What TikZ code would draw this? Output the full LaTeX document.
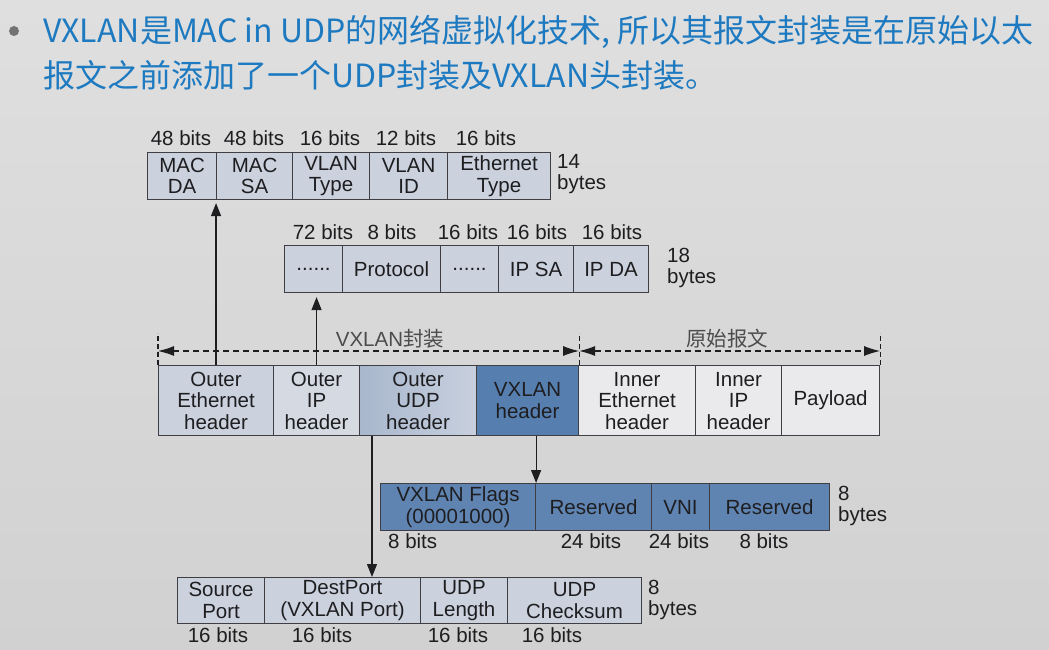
\documentclass[tikz,border=0pt]{standalone}
\usepackage{fontspec}
\setmainfont{Liberation Sans}
\newfontfamily\cjkfont{Noto Sans CJK SC}
\usetikzlibrary{arrows.meta,calc}

\definecolor{bgtop}{RGB}{223,223,223}
\definecolor{bgbot}{RGB}{209,209,209}
\definecolor{titleblue}{RGB}{30,122,192}
\definecolor{edge}{RGB}{62,62,68}
\definecolor{txt}{RGB}{30,30,33}
\definecolor{paleblue}{RGB}{203,209,221}
\definecolor{lightblue}{RGB}{213,217,226}
\definecolor{udpleft}{RGB}{168,183,205}
\definecolor{udpright}{RGB}{200,208,222}
\definecolor{deepblue}{RGB}{86,126,174}
\definecolor{flagblue}{RGB}{96,132,178}
\definecolor{paper}{RGB}{234,234,236}

\tikzset{
  cell/.style={draw=edge, line width=1.1pt, rectangle, inner sep=0pt,
    anchor=north west, align=center, text=txt,
    font=\fontsize{20.5}{21.5}\selectfont},
  lbl/.style={inner sep=0pt, text=txt, font=\fontsize{20.5}{21.5}\selectfont},
  sidelbl/.style={lbl, anchor=west, align=left},
  arr/.style={draw=txt, line width=1.2pt, -{Triangle[length=13pt,width=10pt]}},
  dim/.style={draw=txt, line width=1.1pt, dash pattern=on 6pt off 4pt,
    {Latex[length=16pt,width=10pt]}-{Latex[length=16pt,width=10pt]}},
  tick/.style={draw=txt, line width=1.1pt, dash pattern=on 5pt off 3pt},
}

\begin{document}
\begin{tikzpicture}[x=1pt, y=-1pt]
  \useasboundingbox (0,0) rectangle (1049,650);
  \shade[top color=bgtop, bottom color=bgbot] (0,0) rectangle (1049,650);

  % heading
  \node[circle, fill=black!55, minimum size=10pt, inner sep=0pt] (bullet) at (14,31) {};
  \node[anchor=base west, inner sep=0pt, text=titleblue,
        font=\cjkfont\fontsize{32}{44}\selectfont] (t1) at (43,43)
        {VXLAN是MAC in UDP的网络虚拟化技术, 所以其报文封装是在原始以太};
  \node[anchor=base west, inner sep=0pt, text=titleblue,
        font=\cjkfont\fontsize{32}{44}\selectfont] (t2) at (43,88)
        {报文之前添加了一个UDP封装及VXLAN头封装。};

  % Ethernet header fields
  \node[cell, fill=paleblue, minimum width=69pt, minimum height=47pt] (mda) at (147,152) {MAC\\DA};
  \node[cell, fill=paleblue, minimum width=76pt, minimum height=47pt] (msa) at (216,152) {MAC\\SA};
  \node[cell, fill=paleblue, minimum width=77pt, minimum height=47pt] (vtype) at (292,152) {VLAN\\Type};
  \node[cell, fill=paleblue, minimum width=78pt, minimum height=47pt] (vid) at (369,152) {VLAN\\ID};
  \node[cell, fill=paleblue, minimum width=103pt, minimum height=47pt] (etype) at (447,152) {Ethernet\\Type};
  \node[lbl] (b1) at (181,138) {48 bits};
  \node[lbl] (b2) at (254,138) {48 bits};
  \node[lbl] (b3) at (330,138) {16 bits};
  \node[lbl] (b4) at (406,138) {12 bits};
  \node[lbl] (b5) at (486,138) {16 bits};
  \node[sidelbl] (ethsize) at (557,174) {14\\bytes};

  % IP header fields
  \node[cell, fill=paleblue, minimum width=58pt, minimum height=47pt] (ipdots) at (284,245) {......};
  \node[cell, fill=paleblue, minimum width=98pt, minimum height=47pt] (proto) at (342,245) {Protocol};
  \node[cell, fill=paleblue, minimum width=58pt, minimum height=47pt] (ipdots2) at (440,245) {......};
  \node[cell, fill=paleblue, minimum width=75pt, minimum height=47pt] (ipsa) at (498,245) {IP SA};
  \node[cell, fill=paleblue, minimum width=75pt, minimum height=47pt] (ipda) at (573,245) {IP DA};
  \node[lbl] (c1) at (323,232) {72 bits};
  \node[lbl] (c2) at (392,232) {8 bits};
  \node[lbl] (c3) at (468,232) {16 bits};
  \node[lbl] (c4) at (537,232) {16 bits};
  \node[lbl] (c5) at (612,232) {16 bits};
  \node[sidelbl] (ipsize) at (667,268) {18\\bytes};

  % VXLAN packet
  \node[cell, fill=paleblue, minimum width=115pt, minimum height=70pt] (oeth) at (158,365) {Outer\\Ethernet\\header};
  \node[cell, fill=lightblue, minimum width=86pt, minimum height=70pt] (oip) at (273,365) {Outer\\IP\\header};
  \node[cell, left color=udpleft, right color=udpright, minimum width=117pt, minimum height=70pt] (oudp) at (359,365) {Outer\\UDP\\header};
  \node[cell, fill=deepblue, minimum width=102pt, minimum height=70pt] (vxh) at (476,365) {VXLAN\\header};
  \node[cell, fill=paper, minimum width=117pt, minimum height=70pt] (ieth) at (578,365) {Inner\\Ethernet\\header};
  \node[cell, fill=paper, minimum width=86pt, minimum height=70pt] (iip) at (695,365) {Inner\\IP\\header};
  \node[cell, fill=paper, minimum width=98pt, minimum height=70pt] (pay) at (781,365) {Payload};

  % span markers above the packet
  \coordinate (dl) at ([yshift=14pt]oeth.north west);
  \coordinate (dm) at ([yshift=14pt]vxh.north east);
  \coordinate (dr) at ([yshift=14pt]pay.north east);
  \draw[tick] (oeth.north west) -- ([yshift=32pt]oeth.north west);
  \draw[tick] (vxh.north east) -- ([yshift=32pt]vxh.north east);
  \draw[tick] (pay.north east) -- ([yshift=32pt]pay.north east);
  \draw[dim] (dl) -- (dm);
  \draw[dim] (dm) -- (dr);
  \node[lbl, text=black!70] (encap) at (390,339) {VXLAN{\cjkfont 封装}};
  \node[lbl, text=black!70] (orig) at (727,339) {\cjkfont 原始报文};

  % VXLAN header fields
  \node[cell, fill=flagblue, minimum width=155pt, minimum height=47pt] (vflags) at (380,483) {VXLAN Flags\\(00001000)};
  \node[cell, fill=flagblue, minimum width=116pt, minimum height=47pt] (vres1) at (535,483) {Reserved};
  \node[cell, fill=flagblue, minimum width=58pt, minimum height=47pt] (vni) at (651,483) {VNI};
  \node[cell, fill=flagblue, minimum width=120pt, minimum height=47pt] (vres2) at (709,483) {Reserved};
  \node[lbl, anchor=west] (d1) at (388,541) {8 bits};
  \node[lbl] (d2) at (591,541) {24 bits};
  \node[lbl] (d3) at (679,541) {24 bits};
  \node[lbl] (d4) at (764,541) {8 bits};
  \node[sidelbl] (vxsize) at (838,506) {8\\bytes};

  % UDP header fields
  \node[cell, fill=paleblue, minimum width=87pt, minimum height=46pt] (usrc) at (177,577) {Source\\Port};
  \node[cell, fill=paleblue, minimum width=156pt, minimum height=46pt] (udst) at (264,577) {DestPort\\(VXLAN Port)};
  \node[cell, fill=paleblue, minimum width=87pt, minimum height=46pt] (ulen) at (420,577) {UDP\\Length};
  \node[cell, fill=paleblue, minimum width=134pt, minimum height=46pt] (usum) at (507,577) {UDP\\Checksum};
  \node[lbl] (e1) at (218,635) {16 bits};
  \node[lbl] (e2) at (322,635) {16 bits};
  \node[lbl] (e3) at (458,635) {16 bits};
  \node[lbl] (e4) at (552,635) {16 bits};
  \node[sidelbl] (udpsize) at (648,600) {8\\bytes};

  % expansion arrows
  \draw[arr, shorten >=3pt] (oeth.north) -- (oeth.north |- mda.south);
  \draw[arr, shorten >=4pt] (oip.north) -- (oip.north |- ipdots.south);
  \draw[arr] ([xshift=13pt]oudp.south west) -- ([xshift=13pt]oudp.south west |- udst.north);
  \draw[arr] (vflags.north east |- vxh.south) -- (vflags.north east);
\end{tikzpicture}
\end{document}
